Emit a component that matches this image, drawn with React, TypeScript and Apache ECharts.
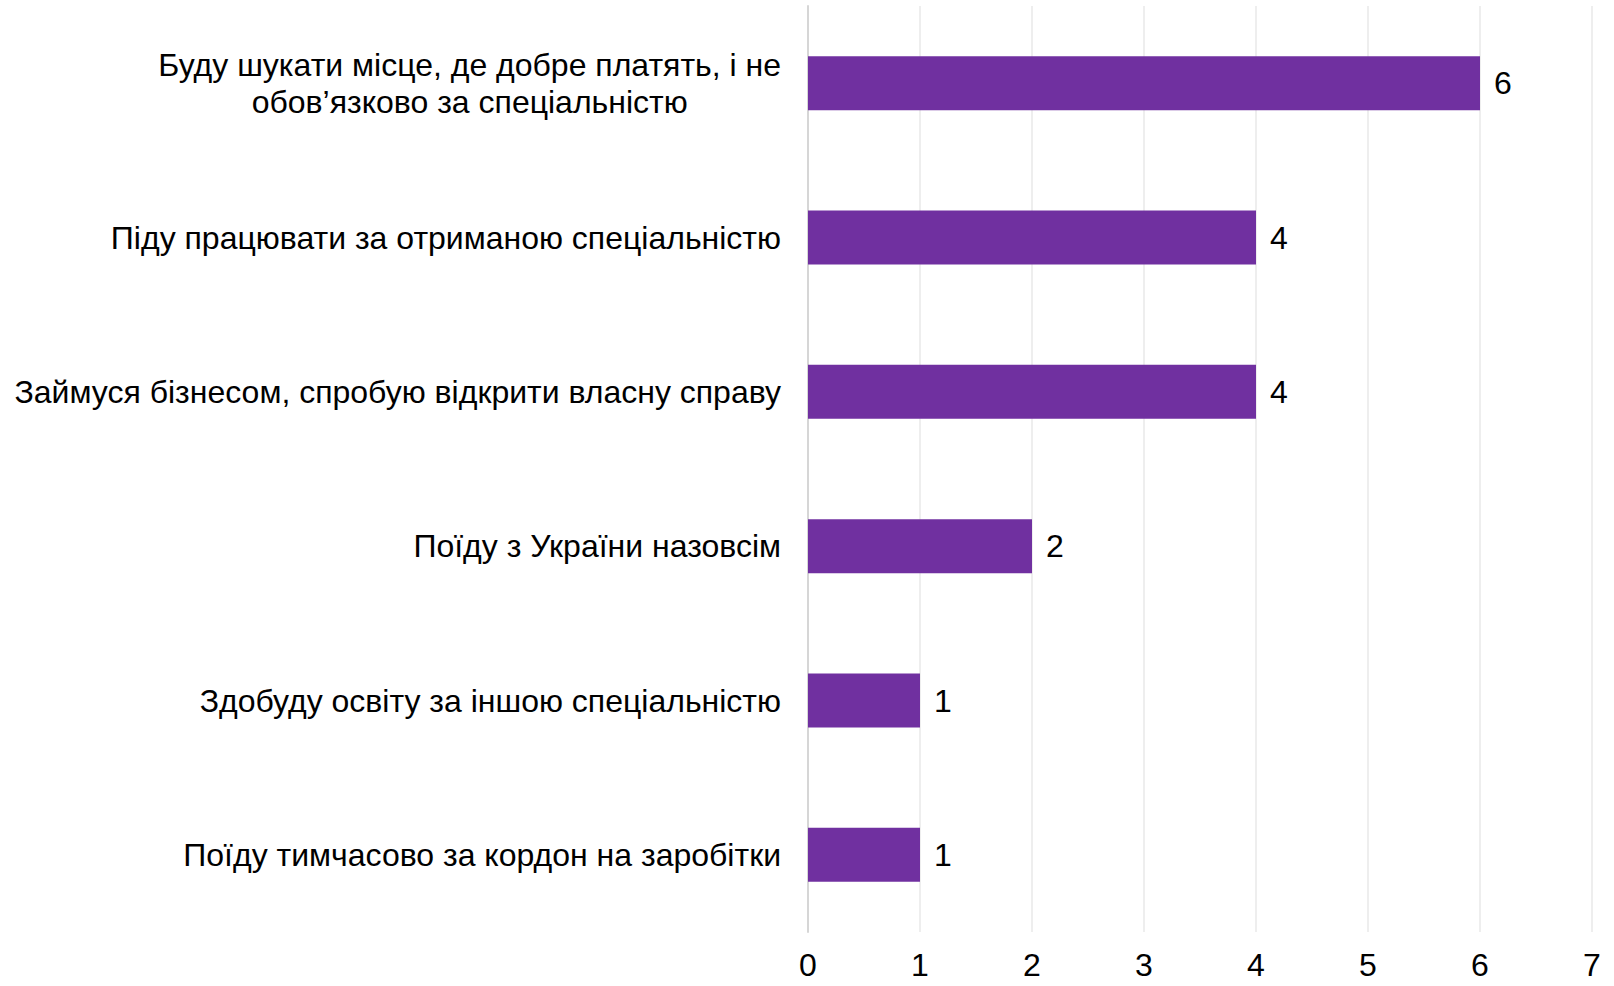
import React, { useEffect, useRef } from "react";
import * as echarts from "echarts";

const categories: string[] = [
  "Буду шукати місце, де добре платять, і не\nобов’язково за спеціальністю",
  "Піду працювати за отриманою спеціальністю",
  "Займуся бізнесом, спробую відкрити власну справу",
  "Поїду з України назовсім",
  "Здобуду освіту за іншою спеціальністю",
  "Поїду тимчасово за кордон на заробітки",
];
const values: number[] = [6, 4, 4, 2, 1, 1];
const xTicks = { min: 0, max: 7, interval: 1 };

const FONT = "'Liberation Sans', Arial, sans-serif";
const FS = 32;

export default function App() {
  const ref = useRef<HTMLDivElement>(null);
  useEffect(() => {
    if (!ref.current) return;
    const chart = echarts.init(ref.current, undefined, { renderer: "svg" });
    chart.setOption({
      animation: false,
      backgroundColor: "#ffffff",
      grid: { left: 808, right: 22, top: 6, bottom: 54, containLabel: false },
      xAxis: {
        type: "value",
        min: xTicks.min,
        max: xTicks.max,
        interval: xTicks.interval,
        axisLine: { show: false },
        axisTick: { show: false },
        splitLine: { show: true, lineStyle: { color: "#e8e8e8", width: 1.5 } },
        axisLabel: {
          color: "#000",
          fontSize: FS,
          fontFamily: FONT,
          margin: 19,
          lineHeight: 28,
          verticalAlign: "top",
        },
      },
      yAxis: {
        type: "category",
        inverse: true,
        data: categories,
        axisLine: { show: true, lineStyle: { color: "#d6d6d6", width: 2 } },
        axisTick: { show: false },
        axisLabel: {
          color: "#000",
          fontSize: FS,
          fontFamily: FONT,
          margin: 27,
          align: "right",
          lineHeight: 37,
          formatter: (v: string) =>
            v
              .split("\n")
              .map((s) => `{c|${s}}`)
              .join("\n"),
          rich: {
            c: { align: "center", fontSize: FS, fontFamily: FONT, color: "#000", lineHeight: 37 },
          },
        },
      },
      series: [
        {
          type: "bar",
          data: values,
          barWidth: 54,
          itemStyle: { color: "#7030A0" },
          label: {
            show: true,
            position: "right",
            distance: 14,
            color: "#000",
            fontSize: FS,
            fontFamily: FONT,
          },
        },
      ],
    });
    return () => chart.dispose();
  }, []);
  return (
    <div
      ref={ref}
      style={{ position: "fixed", left: 0, top: 0, width: 1614, height: 986 }}
    />
  );
}
